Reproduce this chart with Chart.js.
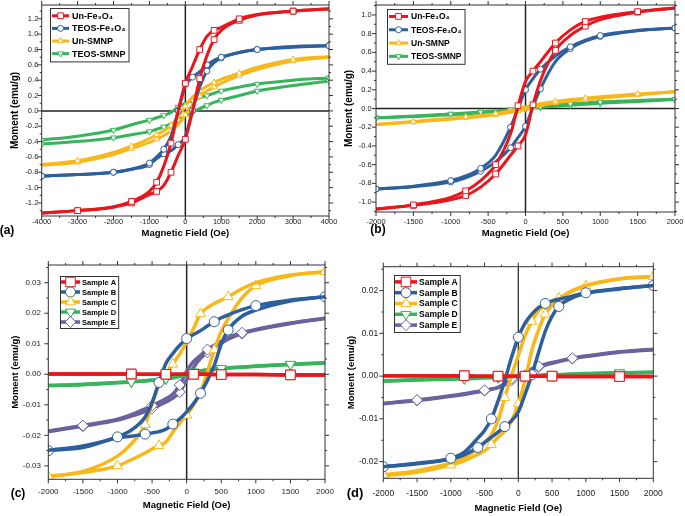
<!DOCTYPE html>
<html>
<head>
<meta charset="utf-8">
<script src="https://cdn.jsdelivr.net/npm/chart.js@4.4.1/dist/chart.umd.min.js"></script>
<style>
  html, body { margin: 0; padding: 0; background: #fff; }
  #wrap { position: relative; width: 685px; height: 516px; overflow: hidden; }
  #wrap canvas { position: absolute; }
</style>
</head>
<body>
<div id="wrap">
  <canvas id="chartA" width="340" height="246" style="left:0px;top:0px"></canvas>
  <canvas id="chartB" width="345" height="246" style="left:340px;top:0px"></canvas>
  <canvas id="chartC" width="340" height="266" style="left:0px;top:250px"></canvas>
  <canvas id="chartD" width="345" height="266" style="left:340px;top:250px"></canvas>
</div>
<script>
// ==================== data ====================
// "Down" arrays follow the field list (+Hmax -> -Hmax),
// "Up" arrays follow the same list reversed (-Hmax -> +Hmax).

// ---- (a) ----
const aField = [4000, 3000, 2000, 1500, 1000, 800, 600, 400, 200, 0, -200, -400, -600, -800, -1000, -1500, -2000, -3000, -4000];
const aXTicks = [-4000, -3000, -2000, -1000, 0, 1000, 2000, 3000, 4000];
const aYTicks = [-1.2, -1.0, -0.8, -0.6, -0.4, -0.2, 0, 0.2, 0.4, 0.6, 0.8, 1.0, 1.2];
const aUnFe3O4Down = [1.33, 1.30, 1.255, 1.20, 1.09, 1.05, 0.97, 0.80, 0.58, 0.36, 0.00, -0.42, -0.72, -0.93, -1.05, -1.18, -1.25, -1.30, -1.33];
const aUnFe3O4Up = [-1.33, -1.30, -1.255, -1.20, -1.09, -1.05, -0.97, -0.80, -0.58, -0.37, 0.00, 0.42, 0.72, 0.93, 1.05, 1.18, 1.25, 1.30, 1.33];
const aTeosFe3O4Down = [0.85, 0.84, 0.80, 0.76, 0.70, 0.66, 0.60, 0.51, 0.44, 0.32, 0.00, -0.33, -0.50, -0.60, -0.68, -0.76, -0.80, -0.83, -0.85];
const aTeosFe3O4Up = [-0.85, -0.83, -0.80, -0.76, -0.70, -0.62, -0.56, -0.52, -0.44, -0.33, 0.01, 0.31, 0.52, 0.63, 0.69, 0.76, 0.80, 0.83, 0.85];
const aUnSmnpDown = [0.71, 0.67, 0.57, 0.49, 0.41, 0.37, 0.32, 0.26, 0.18, 0.06, -0.08, -0.19, -0.26, -0.31, -0.36, -0.46, -0.54, -0.65, -0.70];
const aUnSmnpUp = [-0.71, -0.67, -0.57, -0.49, -0.41, -0.37, -0.32, -0.26, -0.18, -0.05, 0.08, 0.19, 0.26, 0.31, 0.36, 0.46, 0.54, 0.65, 0.70];
const aTeosSmnpDown = [0.43, 0.40, 0.35, 0.31, 0.26, 0.23, 0.20, 0.17, 0.135, 0.10, 0.05, -0.02, -0.06, -0.09, -0.12, -0.18, -0.25, -0.33, -0.38];
const aTeosSmnpUp = [-0.43, -0.40, -0.35, -0.31, -0.27, -0.24, -0.21, -0.17, -0.12, -0.07, -0.02, 0.03, 0.07, 0.11, 0.14, 0.20, 0.26, 0.33, 0.39];

// ---- (b) ----
const bField = [2000, 1500, 1000, 800, 600, 400, 200, 100, 0, -100, -200, -400, -600, -800, -1000, -1500, -2000];
const bXTicks = [-2000, -1500, -1000, -500, 0, 500, 1000, 1500, 2000];
const bYTicks = [-1.0, -0.8, -0.6, -0.4, -0.2, 0, 0.2, 0.4, 0.6, 0.8, 1.0];
const bUnFe3O4Down = [1.075, 1.035, 0.975, 0.93, 0.84, 0.70, 0.50, 0.40, 0.29, 0.03, -0.27, -0.60, -0.77, -0.88, -0.95, -1.03, -1.075];
const bUnFe3O4Up = [-1.075, -1.035, -0.975, -0.93, -0.84, -0.70, -0.50, -0.40, -0.28, 0.04, 0.30, 0.62, 0.78, 0.88, 0.95, 1.03, 1.075];
const bTeosFe3O4Down = [0.86, 0.835, 0.78, 0.73, 0.66, 0.56, 0.42, 0.32, 0.20, 0.00, -0.20, -0.50, -0.64, -0.72, -0.77, -0.83, -0.86];
const bTeosFe3O4Up = [-0.86, -0.835, -0.785, -0.74, -0.67, -0.57, -0.42, -0.31, -0.19, 0.02, 0.21, 0.50, 0.64, 0.72, 0.77, 0.83, 0.86];
const bUnSmnpDown = [0.18, 0.155, 0.125, 0.11, 0.095, 0.075, 0.05, 0.035, 0.015, -0.005, -0.025, -0.055, -0.075, -0.09, -0.105, -0.14, -0.17];
const bUnSmnpUp = [-0.17, -0.145, -0.115, -0.10, -0.085, -0.065, -0.04, -0.025, -0.01, 0.01, 0.03, 0.06, 0.08, 0.095, 0.11, 0.145, 0.18];
const bTeosSmnpDown = [0.10, 0.085, 0.07, 0.06, 0.05, 0.037, 0.022, 0.013, 0.004, -0.004, -0.012, -0.025, -0.037, -0.048, -0.058, -0.08, -0.10];
const bTeosSmnpUp = [-0.10, -0.085, -0.068, -0.058, -0.048, -0.035, -0.02, -0.012, -0.004, 0.004, 0.012, 0.025, 0.035, 0.045, 0.055, 0.075, 0.095];

// ---- (c) ----
const cField = [2000, 1500, 1000, 800, 600, 500, 400, 300, 200, 100, 0, -100, -200, -300, -400, -500, -600, -800, -1000, -1500, -2000];
const cXTicks = [-2000, -1500, -1000, -500, 0, 500, 1000, 1500, 2000];
const cYTicks = [-0.03, -0.02, -0.01, 0, 0.01, 0.02, 0.03];
const cSampleADown = [-0.0002, -0.0002, -0.0001, -0.0001, -0.0001, -0.0001, -0.0001, 0, 0, 0, 0, 0, 0, 0, 0, 0, 0, 0.0001, 0.0001, 0.0001, 0.0001];
const cSampleAUp = [0.0001, 0.0001, 0.0001, 0.0001, 0, 0, 0, 0, 0, 0, 0, 0, 0, 0, -0.0001, -0.0001, -0.0001, -0.0001, -0.0001, -0.0002, -0.0002];
const cSampleBDown = [0.0254, 0.0243, 0.0225, 0.0212, 0.0195, 0.0185, 0.0172, 0.0158, 0.0143, 0.0130, 0.0117, 0.0095, 0.0068, 0.0035, -0.0027, -0.0093, -0.0140, -0.0183, -0.0205, -0.0235, -0.0249];
const cSampleBUp = [-0.0250, -0.0240, -0.0208, -0.0203, -0.0196, -0.0192, -0.0188, -0.0180, -0.0163, -0.0146, -0.0123, -0.0096, -0.0062, -0.0020, 0.0030, 0.0098, 0.0145, 0.0190, 0.0210, 0.0240, 0.0254];
const cSampleCDown = [0.0336, 0.0325, 0.0300, 0.0280, 0.0254, 0.0243, 0.0232, 0.0218, 0.0198, 0.0150, 0.0106, 0.0067, 0.0033, -0.0002, -0.0034, -0.0097, -0.0165, -0.0228, -0.0268, -0.0318, -0.0335];
const cSampleCUp = [-0.0335, -0.0322, -0.0300, -0.0280, -0.0258, -0.0245, -0.0234, -0.0222, -0.0190, -0.0160, -0.0134, -0.0100, -0.0060, 0.0008, 0.0080, 0.0140, 0.0182, 0.0250, 0.0290, 0.0323, 0.0336];
const cSampleDDown = [0.0038, 0.0033, 0.0027, 0.0024, 0.0021, 0.0019, 0.0017, 0.0015, 0.0012, 0.0008, 0.0003, -0.0004, -0.0010, -0.0014, -0.0017, -0.0019, -0.0021, -0.0024, -0.0027, -0.0033, -0.0037];
const cSampleDUp = [-0.0037, -0.0034, -0.0028, -0.0025, -0.0022, -0.0020, -0.0018, -0.0015, -0.0012, -0.0007, -0.0001, 0.0005, 0.0010, 0.0014, 0.0016, 0.0018, 0.0020, 0.0023, 0.0026, 0.0032, 0.0037];
const cSampleEDown = [0.0184, 0.0168, 0.0147, 0.0136, 0.0120, 0.0108, 0.0095, 0.0081, 0.0062, 0.0042, 0.0010, -0.0035, -0.0065, -0.0080, -0.0092, -0.0103, -0.0113, -0.0132, -0.0147, -0.0168, -0.0186];
const cSampleEUp = [-0.0188, -0.0170, -0.0150, -0.0137, -0.0122, -0.0112, -0.0102, -0.0091, -0.0078, -0.0058, -0.0018, 0.0022, 0.0052, 0.0072, 0.0088, 0.0102, 0.0115, 0.0133, 0.0145, 0.0166, 0.0183];

// ---- (d) ----
const dField = [2000, 1500, 1000, 800, 600, 500, 400, 300, 200, 100, 0, -100, -200, -300, -400, -500, -600, -800, -1000, -1500, -2000];
const dXTicks = [-2000, -1500, -1000, -500, 0, 500, 1000, 1500, 2000];
const dYTicks = [-0.02, -0.01, 0, 0.01, 0.02];
const dSampleADown = [-0.0001, -0.0001, -0.0001, -0.0001, -0.0001, 0, 0, 0, 0, 0, 0, 0, 0, 0, 0, 0, 0, 0.0001, 0.0001, 0.0001, 0.0001];
const dSampleAUp = [0.0001, 0.0001, 0.0001, 0.0001, 0, 0, 0, 0, 0, 0, 0, 0, 0, 0, 0, 0, -0.0001, -0.0001, -0.0001, -0.0001, -0.0001];
const dSampleBDown = [0.0212, 0.0205, 0.0195, 0.0187, 0.0180, 0.0176, 0.0170, 0.0160, 0.0145, 0.0124, 0.0091, 0.0044, -0.0010, -0.0058, -0.0100, -0.0127, -0.0145, -0.0178, -0.0192, -0.0204, -0.0212];
const dSampleBUp = [-0.0212, -0.0205, -0.0194, -0.0184, -0.0167, -0.0155, -0.0143, -0.0131, -0.0118, -0.0104, -0.0084, -0.0042, 0.0003, 0.0055, 0.0105, 0.0140, 0.0163, 0.0183, 0.0193, 0.0204, 0.0212];
const dSampleCDown = [0.0233, 0.0228, 0.0212, 0.0200, 0.0182, 0.0174, 0.0165, 0.0153, 0.0128, 0.0095, 0.0048, 0.0002, -0.0050, -0.0103, -0.0138, -0.0158, -0.0170, -0.0190, -0.0203, -0.0221, -0.0231];
const dSampleCUp = [-0.0233, -0.0225, -0.0208, -0.0198, -0.0183, -0.0175, -0.0160, -0.0143, -0.0128, -0.0105, -0.0065, -0.0010, 0.0060, 0.0108, 0.0145, 0.0165, 0.0180, 0.0199, 0.0211, 0.0227, 0.0233];
const dSampleDDown = [0.0009, 0.0008, 0.0006, 0.0005, 0.0004, 0.0004, 0.0003, 0.0002, 0.0002, 0.0001, 0.0000, -0.0001, -0.0002, -0.0002, -0.0003, -0.0003, -0.0004, -0.0005, -0.0006, -0.0008, -0.0011];
const dSampleDUp = [-0.0012, -0.0009, -0.0007, -0.0006, -0.0005, -0.0004, -0.0004, -0.0003, -0.0002, -0.0001, 0.0000, 0.0000, 0.0001, 0.0001, 0.0002, 0.0002, 0.0003, 0.0004, 0.0005, 0.0008, 0.0009];
const dSampleEDown = [0.0063, 0.0057, 0.0047, 0.0042, 0.0035, 0.0032, 0.0028, 0.0023, 0.0017, 0.0010, 0.0002, -0.0006, -0.0017, -0.0026, -0.0030, -0.0033, -0.0036, -0.0041, -0.0046, -0.0056, -0.0064];
const dSampleEUp = [-0.0064, -0.0057, -0.0047, -0.0043, -0.0037, -0.0034, -0.0031, -0.0027, -0.0020, -0.0010, -0.0002, 0.0007, 0.0015, 0.0021, 0.0026, 0.0030, 0.0034, 0.0041, 0.0046, 0.0056, 0.0062];

// ==================== styles ====================
const FONT = "'Liberation Sans', Arial, Helvetica, sans-serif";
const RED = "#e8161d";
const BLUE = "#2d5f9d";
const YELLOW = "#f8b81a";
const GREEN = "#38b45c";
const PURPLE = "#6b619c";

const SQUARE = { shape: "rect", rotation: 0, size: 1.35 };
const CIRCLE = { shape: "circle", rotation: 0, size: 1.0 };
const TRI_UP = { shape: "triangle", rotation: 0, size: 1.15 };
const TRI_DOWN = { shape: "triangle", rotation: 180, size: 1.15 };
const DIAMOND = { shape: "rectRot", rotation: 0, size: 1.1 };

// ==================== helpers ====================

function markerRadius(look, style, phase) {
  const r = look.radius * style.size;
  return (ctx) => (ctx.dataIndex % look.every === phase % look.every ? r : 0);
}

/** one hysteresis loop = two branch datasets, only the first shows in the legend */
function loop(label, color, style, field, down, up, look, phase) {
  const upField = field.slice().reverse();
  const common = {
    label,
    showLine: true,
    fill: false,
    borderColor: color,
    borderWidth: look.lineWidth,
    pointStyle: style.shape,
    pointRotation: style.rotation,
    pointBackgroundColor: "#fff",
    pointBorderColor: color,
    pointBorderWidth: 1,
    cubicInterpolationMode: "monotone",
    legendRadius: look.radius * style.size,
  };
  return [
    { ...common, data: field.map((h, i) => ({ x: h, y: down[i] })), pointRadius: markerRadius(look, style, phase) },
    { ...common, inLegend: false, data: upField.map((h, i) => ({ x: h, y: up[i] })), pointRadius: markerRadius(look, style, phase + 2) },
  ];
}

// ==================== plugins ====================

const framePlugin = {
  id: "frame",
  beforeDatasetsDraw(chart, args, o) {
    const { ctx, chartArea: a, scales: { x, y } } = chart;
    const x0 = x.getPixelForValue(0);
    const y0 = y.getPixelForValue(0);
    ctx.save();
    ctx.strokeStyle = "#222";
    ctx.lineWidth = o.zeroWidth;
    ctx.beginPath();
    ctx.moveTo(x0, a.top); ctx.lineTo(x0, a.bottom);
    ctx.moveTo(a.left, y0); ctx.lineTo(a.right, y0);
    ctx.stroke();
    ctx.restore();
  },
  afterDatasetsDraw(chart, args, o) {
    const { ctx, chartArea: a, scales: { x, y } } = chart;
    const marks = (scale) => {
      const vals = scale.ticks.map((t) => t.value);
      const step = vals[1] - vals[0];
      const out = vals.map((v) => [v, o.tickLen]);
      for (let m = vals[0] - step / 2; m <= scale.max; m += step) {
        if (m >= scale.min) out.push([m, o.minorLen]);
      }
      return out;
    };
    ctx.save();
    ctx.strokeStyle = "#333";
    ctx.lineWidth = 1;
    ctx.strokeRect(a.left, a.top, a.right - a.left, a.bottom - a.top);
    ctx.beginPath();
    for (const [v, len] of marks(x)) {
      const px = x.getPixelForValue(v);
      ctx.moveTo(px, a.bottom); ctx.lineTo(px, a.bottom + len);
      ctx.moveTo(px, a.top); ctx.lineTo(px, a.top - len);
    }
    for (const [v, len] of marks(y)) {
      const py = y.getPixelForValue(v);
      ctx.moveTo(a.left, py); ctx.lineTo(a.left - len, py);
      ctx.moveTo(a.right, py); ctx.lineTo(a.right + len, py);
    }
    ctx.stroke();
    ctx.fillStyle = "#000";
    ctx.font = `bold ${o.tagSize}px ${FONT}`;
    ctx.textAlign = "center";
    ctx.textBaseline = "middle";
    ctx.fillText(o.tag, o.tagX, o.tagY);
    ctx.restore();
  },
};

const legendPlugin = {
  id: "loopLegend",
  afterDraw(chart, args, o) {
    const ctx = chart.ctx;
    const items = chart.data.datasets.filter((d) => d.inLegend !== false);
    ctx.save();
    ctx.font = `bold ${o.fontSize}px ${FONT}`;
    const textW = Math.max(...items.map((d) => ctx.measureText(d.label).width));
    const w = o.pad + o.lineLen + o.gap + textW + o.padRight;
    const h = o.padTop * 2 + items.length * o.rowH;
    ctx.fillStyle = "#fff";
    ctx.fillRect(o.x, o.y, w, h);
    ctx.strokeStyle = "#333";
    ctx.lineWidth = 1;
    ctx.strokeRect(o.x + 0.5, o.y + 0.5, w, h);
    items.forEach((d, i) => {
      const cy = o.y + o.padTop + o.rowH * (i + 0.5);
      const x1 = o.x + o.pad;
      const x2 = x1 + o.lineLen;
      ctx.strokeStyle = d.borderColor;
      ctx.lineWidth = d.borderWidth;
      ctx.beginPath();
      ctx.moveTo(x1, cy); ctx.lineTo(x2, cy);
      ctx.stroke();
      ctx.fillStyle = "#fff";
      ctx.lineWidth = 1;
      Chart.helpers.drawPoint(ctx, {
        pointStyle: d.pointStyle, rotation: d.pointRotation, radius: d.legendRadius, borderWidth: 1,
      }, (x1 + x2) / 2, cy);
      ctx.fillStyle = "#000";
      ctx.textAlign = "left";
      ctx.textBaseline = "middle";
      ctx.fillText(d.label, x2 + o.gap, cy + 0.5);
    });
    ctx.restore();
  },
};

// ==================== panel ====================

function makePanel(id, p) {
  return new Chart(document.getElementById(id), {
    type: "scatter",
    data: { datasets: p.datasets },
    options: {
      responsive: false,
      animation: false,
      events: [],
      layout: { padding: { left: 0, top: p.top, right: p.right, bottom: 0 } },
      plugins: {
        legend: { display: false },
        tooltip: { enabled: false },
        frame: p.frame,
        loopLegend: p.legend,
      },
      scales: {
        x: {
          type: "linear",
          min: p.xMin, max: p.xMax,
          afterBuildTicks: (s) => { s.ticks = p.xTicks.map((v) => ({ value: v })); },
          afterFit: (s) => { s.height = p.xAxisH; s.paddingLeft = 0; s.paddingRight = 0; },
          grid: { display: false, drawTicks: false },
          border: { display: false },
          ticks: {
            padding: p.xTickPad, maxRotation: 0, minRotation: 0, autoSkip: false,
            color: "#222", font: { family: FONT, size: p.tickSize },
            callback: (v) => String(v),
          },
          title: {
            display: true, text: "Magnetic Field (Oe)", color: "#000",
            font: { family: FONT, size: p.xTitleSize, weight: "bold" },
            padding: { top: 0, bottom: p.xTitlePad },
          },
        },
        y: {
          type: "linear",
          min: p.yMin, max: p.yMax,
          afterBuildTicks: (s) => { s.ticks = p.yTicks.map((v) => ({ value: v })); },
          afterFit: (s) => { s.width = p.yAxisW; s.paddingTop = 0; s.paddingBottom = 0; },
          grid: { display: false, drawTicks: false },
          border: { display: false },
          ticks: {
            padding: p.yTickPad, autoSkip: false,
            color: "#222", font: { family: FONT, size: p.tickSize },
            callback: (v) => Number(v).toFixed(p.yDecimals),
          },
          title: {
            display: true, text: "Moment (emu/g)", color: "#000",
            font: { family: FONT, size: p.yTitleSize, weight: "bold" },
            padding: { top: p.yTitlePad, bottom: 0 },
          },
        },
      },
    },
    plugins: [framePlugin, legendPlugin],
  });
}

const smallLook = { lineWidth: 3, radius: 3, every: 2 };
const bigLook = { lineWidth: 3.5, radius: 5, every: 4 };

makePanel("chartA", {
  datasets: [
    ...loop("Un-Fe₃O₄", RED, SQUARE, aField, aUnFe3O4Down, aUnFe3O4Up, smallLook, 1),
    ...loop("TEOS-Fe₃O₄", BLUE, CIRCLE, aField, aTeosFe3O4Down, aTeosFe3O4Up, smallLook, 0),
    ...loop("Un-SMNP", YELLOW, TRI_UP, aField, aUnSmnpDown, aUnSmnpUp, smallLook, 1),
    ...loop("TEOS-SMNP", GREEN, TRI_DOWN, aField, aTeosSmnpDown, aTeosSmnpUp, smallLook, 0),
  ],
  xMin: -4000, xMax: 4000, xTicks: aXTicks,
  yMin: -1.37, yMax: 1.38, yTicks: aYTicks, yDecimals: 1,
  top: 5, right: 11, yAxisW: 41.7, xAxisH: 30,
  tickSize: 7.5, xTickPad: 1.5, yTickPad: 3.4,
  xTitleSize: 9.5, xTitlePad: 7.3, yTitleSize: 10, yTitlePad: 9,
  frame: { zeroWidth: 1.5, tickLen: 4, minorLen: 2, tag: "(a)", tagX: 7, tagY: 231, tagSize: 12 },
  legend: { x: 50, y: 8, rowH: 12.6, padTop: 1.5, pad: 2, lineLen: 17, gap: 3, padRight: 3, fontSize: 9 },
});

makePanel("chartB", {
  datasets: [
    ...loop("Un-Fe₃O₄", RED, SQUARE, bField, bUnFe3O4Down, bUnFe3O4Up, smallLook, 1),
    ...loop("TEOS-Fe₃O₄", BLUE, CIRCLE, bField, bTeosFe3O4Down, bTeosFe3O4Up, smallLook, 0),
    ...loop("Un-SMNP", YELLOW, TRI_UP, bField, bUnSmnpDown, bUnSmnpUp, smallLook, 1),
    ...loop("TEOS-SMNP", GREEN, TRI_DOWN, bField, bTeosSmnpDown, bTeosSmnpUp, smallLook, 0),
  ],
  xMin: -2000, xMax: 2000, xTicks: bXTicks,
  yMin: -1.106, yMax: 1.106, yTicks: bYTicks, yDecimals: 1,
  top: 4, right: 10, yAxisW: 36, xAxisH: 34,
  tickSize: 7.5, xTickPad: 5.2, yTickPad: 4.3,
  xTitleSize: 9.5, xTitlePad: 7.3, yTitleSize: 10, yTitlePad: 3.3,
  frame: { zeroWidth: 1.5, tickLen: 4, minorLen: 2, tag: "(b)", tagX: 38, tagY: 230, tagSize: 12 },
  legend: { x: 47, y: 9, rowH: 13.3, padTop: 0.8, pad: 2, lineLen: 19, gap: 3, padRight: 3, fontSize: 8.5 },
});

makePanel("chartC", {
  datasets: [
    ...loop("Sample A", RED, SQUARE, cField, cSampleADown, cSampleAUp, bigLook, 1),
    ...loop("Sample B", BLUE, CIRCLE, cField, cSampleBDown, cSampleBUp, bigLook, 2),
    ...loop("Sample C", YELLOW, TRI_UP, cField, cSampleCDown, cSampleCUp, bigLook, 0),
    ...loop("Sample D", GREEN, TRI_DOWN, cField, cSampleDDown, cSampleDUp, bigLook, 1),
    ...loop("Sample E", PURPLE, DIAMOND, cField, cSampleEDown, cSampleEUp, bigLook, 3),
  ],
  xMin: -2000, xMax: 2000, xTicks: cXTicks,
  yMin: -0.0344, yMax: 0.0358, yTicks: cYTicks, yDecimals: 2,
  top: 15, right: 15, yAxisW: 48.3, xAxisH: 36.7,
  tickSize: 8, xTickPad: 7.6, yTickPad: 7.3,
  xTitleSize: 9.5, xTitlePad: 5.3, yTitleSize: 9.5, yTitlePad: 9.3,
  frame: { zeroWidth: 1.5, tickLen: 4, minorLen: 2, tag: "(c)", tagX: 18, tagY: 244, tagSize: 12 },
  legend: { x: 60, y: 26, rowH: 10, padTop: 1, pad: 1, lineLen: 19, gap: 2, padRight: 2, fontSize: 7.5 },
});

makePanel("chartD", {
  datasets: [
    ...loop("Sample A", RED, SQUARE, dField, dSampleADown, dSampleAUp, bigLook, 1),
    ...loop("Sample B", BLUE, CIRCLE, dField, dSampleBDown, dSampleBUp, bigLook, 2),
    ...loop("Sample C", YELLOW, TRI_UP, dField, dSampleCDown, dSampleCUp, bigLook, 0),
    ...loop("Sample D", GREEN, TRI_DOWN, dField, dSampleDDown, dSampleDUp, bigLook, 1),
    ...loop("Sample E", PURPLE, DIAMOND, dField, dSampleEDown, dSampleEUp, bigLook, 3),
  ],
  xMin: -2000, xMax: 2000, xTicks: dXTicks,
  yMin: -0.0239, yMax: 0.0256, yTicks: dYTicks, yDecimals: 2,
  top: 16.7, right: 31.7, yAxisW: 43.3, xAxisH: 37.7,
  tickSize: 8.5, xTickPad: 10, yTickPad: 5,
  xTitleSize: 9.5, xTitlePad: 2.3, yTitleSize: 9.5, yTitlePad: 6,
  frame: { zeroWidth: 1.2, tickLen: 4, minorLen: 2, tag: "(d)", tagX: 15, tagY: 243, tagSize: 13 },
  legend: { x: 54, y: 25, rowH: 10.8, padTop: 1.5, pad: 1, lineLen: 22, gap: 2, padRight: 2, fontSize: 8.5 },
});
</script>
</body>
</html>
